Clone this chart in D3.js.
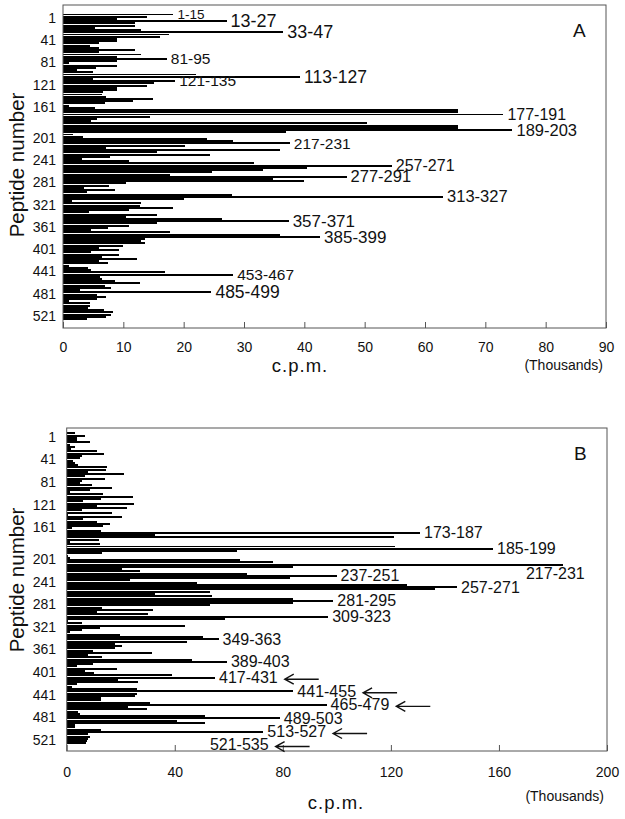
<!DOCTYPE html>
<html>
<head>
<meta charset="utf-8">
<script src="https://cdn.jsdelivr.net/npm/d3@7/dist/d3.min.js"></script>
<style>
  body { margin: 0; background: #fff; }
  svg { display: block; font-family: "Liberation Sans", Arial, Helvetica, sans-serif; }
</style>
</head>
<body>
<div id="chart"></div>
<script>
// peptide start numbers, one row each (a few extra rows between 161 and 201)
var peptides = ["1","5","9","13","17","21","25","29","33","37","41","45","49","53","57","61","65","69","73","77",
  "81","85","89","93","97","101","105","109","113","117","121","125","129","133","137","141","145","149","153","157","161",
  "165","169","169b","173","177","177b","181","181b","181c","185b","185","189","193",
  "201","205","209","213","217","221","225","229","233","237","241","245","249","253","257","261","265","269","273","277",
  "281","285","289","293","297","301","305","309","313","317","321","325","329","333","337","341","345","349","353","357",
  "361","365","369","373","377","381","385","389","393","397","401","405","409","413","417","421","425","429","433","437",
  "441","445","449","453","457","461","465","469","473","477","481","485","489","493","497","501","505","509","513","517",
  "521","525","529","533"];

var tickLabels = ["1","41","81","121","161","201","241","281","321","361","401","441","481","521"];
var xTicksA = [0, 10, 20, 30, 40, 50, 60, 70, 80, 90];
var xTicksB = [0, 40, 80, 120, 160, 200];

// c.p.m. in thousands, panel A
var cpmA = [18.3,14,9,27.1,12,12,5.3,13,36.5,17.5,16,9,9,6,4.5,6,12,6,13,9,
  17.2,9,1,9,5.5,2.3,5,22,39.3,5,18.6,15,14,9,9,6.7,6.5,7.2,14.9,11.6,7,
  1,5.3,65.5,65.5,73,14.4,5.6,4.7,50.4,65.5,65.5,74.5,37,
  1.7,3.3,23.8,28.2,37.6,20.3,7.2,36,15.5,24.4,7.8,3.1,11,31.6,54.5,40.4,33.2,24.7,17.8,47,
  34.8,39.9,10.5,7.7,3.4,8.6,4,28,63,20,1.5,12.9,12.8,18.3,11,4.3,15.5,10.5,26.3,37.4,
  15.5,11,7.5,4.7,17.8,36,42.6,13.6,12.9,13.6,10,6,9.2,4.7,9.3,6.4,12.2,5.9,7.5,1,
  4.2,4.7,16.9,28.2,6.2,6.4,8.6,12.8,7,8,2.8,24.6,5.6,7.2,5.6,1,4.4,4.4,4.2,6.8,
  8.3,8,7.2,3.9];

// c.p.m. in thousands, panel B
var cpmB = [3,6.8,3.7,3.7,8.6,1.2,3.1,1.6,11.1,13.8,5.5,4.9,2.4,3.1,4.3,14.8,14.5,8,21.2,6.8,
  14.2,5.5,4.9,9.2,16.6,8.6,1.2,13.4,24.7,12.8,6.2,25,11.1,22.2,5.5,16.6,0.5,20.5,6.2,11.1,16,
  13.6,1.8,12.8,130.8,32.7,121,12,1.2,12.3,121.6,157.8,62.9,12.9,
  0.3,1.2,64.1,76.4,183.8,83.9,20.3,27.1,66.6,99.9,82.6,23.4,48.1,125.8,144.5,136.3,53.1,32.7,53.7,83.9,
  98.7,83.9,53.1,12.9,32,11.1,30.2,96.8,58.6,0.6,5.5,43.8,12.3,5.5,1.2,19.7,50.6,56.2,44.4,17.9,
  20.3,17.9,9.9,31.4,8,12.9,46.3,59.3,9.9,3.7,18.5,6.8,10,38.9,54.9,19.1,26.5,3.7,1.8,26,
  83.9,25.9,25.3,12.8,12.8,30.8,96.2,22.8,29.6,4.3,4.9,51.2,78.9,40.7,51.2,3.1,3.1,12.8,72.8,8,
  8.6,8,7.5,7];

var peaksA = [
  { pep: "1", text: "1-15" }, { pep: "13", text: "13-27" }, { pep: "33", text: "33-47" },
  { pep: "81", text: "81-95" }, { pep: "113", text: "113-127" }, { pep: "121", text: "121-135" },
  { pep: "177", text: "177-191" }, { pep: "189", text: "189-203" }, { pep: "217", text: "217-231" },
  { pep: "257", text: "257-271" }, { pep: "277", text: "277-291" }, { pep: "313", text: "313-327" },
  { pep: "357", text: "357-371" }, { pep: "385", text: "385-399" }, { pep: "453", text: "453-467" },
  { pep: "485", text: "485-499" }
];

var peaksB = [
  { pep: "173", text: "173-187" }, { pep: "185", text: "185-199" },
  { pep: "217", text: "217-231", at: 170, below: true },
  { pep: "237", text: "237-251" }, { pep: "257", text: "257-271" }, { pep: "281", text: "281-295" },
  { pep: "309", text: "309-323" }, { pep: "349", text: "349-363" }, { pep: "389", text: "389-403" },
  { pep: "417", text: "417-431", arrow: true }, { pep: "441", text: "441-455", arrow: true },
  { pep: "465", text: "465-479", arrow: true }, { pep: "489", text: "489-503" },
  { pep: "513", text: "513-527", arrow: true },
  { pep: "521", text: "521-535", at: 53, below: true, arrow: true }
];

// font sizes of the peak labels
var peakSize = {
  "1-15": 13.5, "13-27": 18, "33-47": 18, "81-95": 15.5, "113-127": 17.5, "121-135": 15.5,
  "177-191": 16, "189-203": 16.5, "217-231": 15.5, "257-271": 16, "277-291": 16.5,
  "313-327": 16.5, "357-371": 17, "385-399": 17, "453-467": 15.5, "485-499": 17.5
};

var svg = d3.select("#chart").append("svg")
    .attr("width", 625)
    .attr("height", 819);

function drawPanel(cfg)
{
    var x = d3.scaleLinear().domain([0, cfg.max]).range([cfg.left, cfg.right]);
    var y = d3.scaleBand().domain(peptides).range([cfg.rowTop, cfg.rowBottom]).paddingInner(0.12);

    var g = svg.append("g");

    g.append("g")
        .selectAll("rect")
        .data(cfg.values)
        .join("rect")
        .attr("x", x(0))
        .attr("y", function (d, i) { return y(peptides[i]); })
        .attr("width", function (d) { return x(d) - x(0); })
        .attr("height", y.bandwidth())
        .attr("fill", "#000")
        .attr("shape-rendering", "crispEdges");

    g.append("rect")
        .attr("x", cfg.left)
        .attr("y", cfg.top)
        .attr("width", cfg.right - cfg.left)
        .attr("height", cfg.bottom - cfg.top)
        .attr("fill", "none")
        .attr("stroke", "#555")
        .attr("stroke-width", 1);

    var xAxis = g.append("g")
        .attr("transform", "translate(0," + cfg.bottom + ")")
        .call(d3.axisBottom(x).tickValues(cfg.ticks).tickSize(-6).tickPadding(cfg.tickPad));
    xAxis.select(".domain").remove();
    xAxis.selectAll("line").attr("stroke", "#555");
    xAxis.selectAll("text").attr("font-size", 14).attr("fill", "#111")
        .attr("font-family", "'Liberation Sans', Arial, sans-serif");

    var yAxis = g.append("g")
        .attr("transform", "translate(" + cfg.left + ",0)")
        .call(d3.axisLeft(y).tickValues(tickLabels).tickSize(0).tickPadding(cfg.left - 56));
    yAxis.select(".domain").remove();
    yAxis.selectAll("text").attr("font-size", 14).attr("fill", "#111").attr("dy", "0.6em")
        .attr("font-family", "'Liberation Sans', Arial, sans-serif");

    g.append("text")
        .attr("transform", "translate(24," + cfg.titleY + ") rotate(-90)")
        .attr("text-anchor", "middle")
        .attr("font-size", 20.5)
        .attr("fill", "#111")
        .text("Peptide number");

    g.append("text")
        .attr("x", cfg.cpmX)
        .attr("y", cfg.bottom + cfg.cpmDy)
        .attr("text-anchor", "middle")
        .attr("font-size", 18.5)
        .attr("letter-spacing", 1)
        .attr("fill", "#111")
        .text("c.p.m.");

    g.append("text")
        .attr("x", cfg.right - 3)
        .attr("y", cfg.bottom + cfg.thouDy)
        .attr("text-anchor", "end")
        .attr("font-size", 14)
        .attr("fill", "#111")
        .text("(Thousands)");

    g.append("text")
        .attr("x", cfg.right - 33)
        .attr("y", cfg.top + 32)
        .attr("font-size", 19)
        .attr("fill", "#111")
        .text(cfg.letter);

    cfg.peaks.forEach(function (p) {
        var i = peptides.indexOf(p.pep);
        var yc = y(p.pep) + y.bandwidth() / 2 + (p.below ? 8.5 : 0);
        var tx = p.at !== undefined ? x(p.at) : x(cfg.values[i]) + 4;
        var t = g.append("text")
            .attr("x", tx)
            .attr("y", yc)
            .attr("dy", "0.34em")
            .attr("font-size", cfg.sizes[p.text] || 16)
            .attr("fill", "#111")
            .text(p.text);
        if (p.arrow) {
            var head = tx + t.node().getComputedTextLength() + 7;
            var ay = yc + 1.5;
            g.append("path")
                .attr("d", "M" + (head + 34) + "," + ay + "H" + head +
                    "M" + (head + 9) + "," + (ay - 5) + "L" + head + "," + ay + "L" + (head + 9) + "," + (ay + 5))
                .attr("fill", "none")
                .attr("stroke", "#111")
                .attr("stroke-width", 1.4);
        }
    });
}

drawPanel({
    values: cpmA, peaks: peaksA, sizes: peakSize, letter: "A",
    max: 90, ticks: xTicksA,
    left: 63, right: 606, top: 5, bottom: 328,
    rowTop: 13.5, rowBottom: 320,
    tickPad: 14, cpmX: 300, cpmDy: 44, thouDy: 42, titleY: 165
});

drawPanel({
    values: cpmB, peaks: peaksB, sizes: {}, letter: "B",
    max: 200, ticks: xTicksB,
    left: 66.7, right: 607, top: 428, bottom: 751,
    rowTop: 432.4, rowBottom: 744.3,
    tickPad: 16, cpmX: 336, cpmDy: 58, thouDy: 50, titleY: 580
});
</script>
</body>
</html>
